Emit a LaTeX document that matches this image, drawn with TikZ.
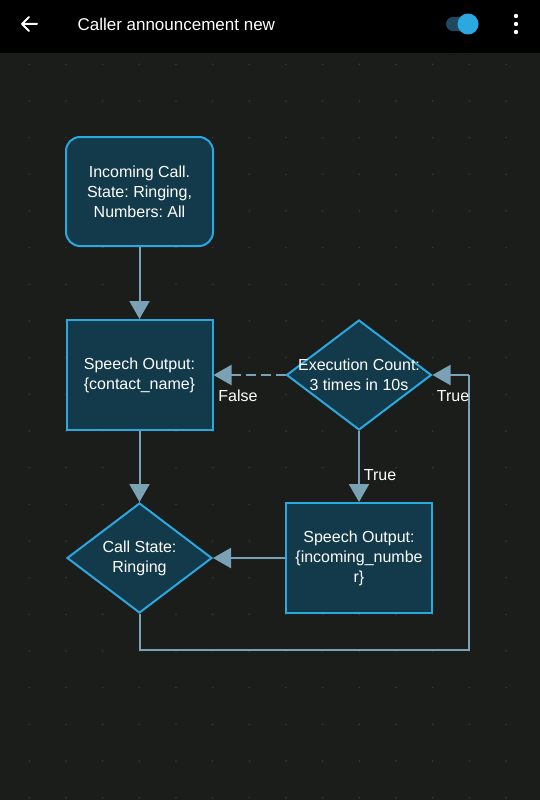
\documentclass[tikz,border=0pt]{standalone}
\usepackage{fontspec}
\setmainfont{Liberation Sans}
\frenchspacing
\usetikzlibrary{arrows.meta,shapes.geometric}
\definecolor{bg}{HTML}{1B1D1B}
\definecolor{nodefill}{HTML}{133A4A}
\definecolor{nodeborder}{HTML}{2AA8DF}
\definecolor{conn}{HTML}{7BA2B4}
\definecolor{griddot}{HTML}{3A3E3A}
\definecolor{tracktog}{HTML}{1D4A5E}
\tikzset{
  every node/.style={font=\fontsize{16}{20}\selectfont, text=white, align=center},
  base/.style={draw=nodeborder, fill=nodefill, line width=2pt},
  rbox/.style={base, rounded corners=14pt, minimum width=147pt, minimum height=109pt, inner sep=0pt},
  sbox/.style={base, minimum width=146pt, minimum height=110pt, inner sep=0pt},
  dia/.style={base, diamond, minimum width=145pt, minimum height=110pt, inner sep=0pt},
  conn/.style={draw=conn, line width=2pt, -{Triangle[width=20pt,length=18pt]}},
  connline/.style={draw=conn, line width=2pt},
  lbl/.style={font=\fontsize{16}{18}\selectfont, text=white},
}
\begin{document}
\begin{tikzpicture}[x=1pt,y=-1pt]
\useasboundingbox (0,0) rectangle (540,800);
\fill[bg] (0,0) rectangle (540,800);
% grid dots
\foreach \i in {0,...,14} {
  \foreach \j in {0,...,20} {
    \fill[griddot] (29.3+36.67*\i, 64.3+36.67*\j) circle (0.8);
  }
}
% top bar
\fill[black] (0,0) rectangle (540,53);
\draw[white, line width=2pt, line cap=round, line join=round] (37,24) -- (22,24) (29,17) -- (22,24) -- (29,31);
\node[anchor=west, font=\fontsize{17}{20}\selectfont] (title) at (74,24) {Caller announcement new};
\fill[tracktog, rounded corners=7pt] (446,17) rectangle (478,31);
\fill[nodeborder] (468,24) circle (10.5);
\foreach \yy in {16,24,32} {\fill[white] (516,\yy) circle (2.2);}
% nodes
\node[rbox] (start) at (139.5,191.5) {Incoming Call.\\State: Ringing,\\Numbers: All};
\node[sbox] (sp1) at (139.5,375) {Speech Output:\\\{contact\_name\}};
\node[dia] (exec) at (359,375) {};
\node (exect) at (exec) {Execution Count:\\3 times in 10s};
\node[dia] (cs) at (139.5,558) {};
\node (cst) at (cs) {Call State:\\Ringing};
\node[sbox] (sp2) at (359,558) {Speech Output:\\\{incoming\_numbe\\r\}};
\coordinate (c1) at (139.5,650);
\coordinate (c2) at (469,650);
\coordinate (c3) at (469,375);
% connectors
\draw[conn] (start) -- (sp1);
\draw[conn] (sp1) -- (cs);
\draw[conn, dash pattern=on 10pt off 5pt] (exec.west) -- (sp1.east);
\draw[conn] (exec.south) -- (sp2.north);
\draw[conn] (sp2.west) -- (cs.east);
\draw[connline] (cs.south) -- (c1) -- (c2) -- (c3);
\draw[conn] (c3) -- (exec.east);
% labels
\node[lbl] (lf) at (238,396) {False};
\node[lbl] (lt1) at (380,475) {True};
\node[lbl] (lt2) at (453,396) {True};
\end{tikzpicture}
\end{document}
